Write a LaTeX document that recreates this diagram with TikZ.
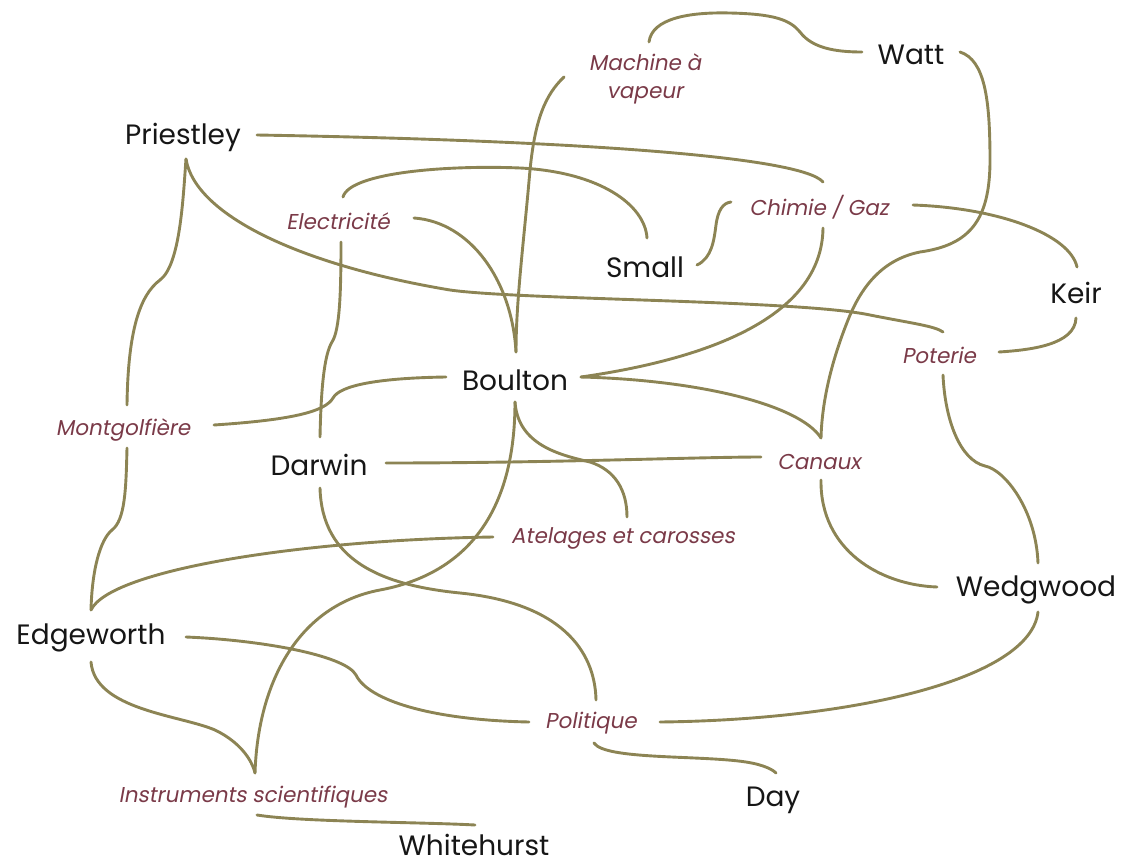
\documentclass[tikz,border=0pt]{standalone}
\usepackage{fontspec}
\setmainfont{Poppins}
\newfontfamily\topicfont{Poppins}[FakeSlant=0.18]
\usetikzlibrary{calc}
\definecolor{linecol}{RGB}{140,132,84}
\definecolor{topiccol}{RGB}{122,58,72}
\definecolor{namecol}{RGB}{22,22,22}
\tikzset{
  person/.style={inner sep=0pt, text=namecol, font=\fontsize{28}{30}\selectfont},
  topic/.style={inner sep=0pt, text=topiccol, font=\topicfont\fontsize{21.5}{28}\selectfont, align=center},
  link/.style={draw=linecol, line width=2.9pt, line cap=round}
}
\begin{document}
\begin{tikzpicture}[x=1pt,y=-1pt]
\path[use as bounding box] (0,0) rectangle (1125,867);
% people
\node[person] (Watt) at (911,55) {Watt};
\node[person] (Pri) at (183,137) {Priestley};
\node[person] (Small) at (645,267) {Small};
\node[person] (Keir) at (1076,293) {Keir};
\node[person] (Boul) at (515,380) {Boulton};
\node[person] (Darw) at (319,465) {Darwin};
\node[person] (Wedg) at (1036,590) {Wedgwood};
\node[person] (Edge) at (91,638) {Edgeworth};
\node[person] (Day) at (773,800) {Day};
\node[person] (White) at (474,845) {Whitehurst};
% topics
\node[topic] (Mach) at (645,79) {Machine à\\vapeur};
\node[topic] (Elec) at (338,221) {Electricité};
\node[topic] (Chim) at (819,207) {Chimie / Gaz};
\node[topic] (Pot) at (939,355) {Poterie};
\node[topic] (Mont) at (123,430) {Montgolfière};
\node[topic] (Can) at (819,462) {Canaux};
\node[topic] (Atel) at (623,538) {Atelages et carosses};
\node[topic] (Pol) at (591,723) {Politique};
\node[topic] (Instr) at (253,797) {Instruments scientifiques};
% links
\draw[link] ($(Mach)+(4,-37)$) .. controls (652,18) and (690,12) .. (730,13) .. controls (775,14) and (790,20) .. (800,32) .. controls (812,48) and (835,52) .. ($(Watt)+(-49,-3)$);
\draw[link] ($(Mach)+(-81,-2)$) .. controls (545,95) and (535,120) .. (530,170) .. controls (524,240) and (516,300) .. ($(Boul)+(1,-28)$);
\draw[link] ($(Watt)+(49,-3)$) .. controls (985,60) and (990,100) .. (990,160) .. controls (990,220) and (970,245) .. (920,252) .. controls (880,260) and (860,290) .. (848,320) .. controls (832,360) and (822,400) .. ($(Can)+(2,-24)$);
\draw[link] ($(Pri)+(74,-2)$) .. controls (550,140) and (800,155) .. ($(Chim)+(4,-25)$);
\draw[link] ($(Pri)+(3,22)$) .. controls (183,200) and (180,265) .. (160,280) .. controls (140,295) and (128,330) .. ($(Mont)+(4,-25)$);
\draw[link] ($(Pri)+(3,22)$) .. controls (195,215) and (300,265) .. (450,290) .. controls (520,300) and (800,300) .. (870,315) .. controls (910,323) and (935,326) .. ($(Pot)+(4,-23)$);
\draw[link] ($(Elec)+(5,-24)$) .. controls (350,172) and (450,165) .. (520,168) .. controls (600,172) and (645,205) .. ($(Small)+(2,-29)$);
\draw[link] ($(Elec)+(76,-3)$) .. controls (470,222) and (512,280) .. ($(Boul)+(1,-28)$);
\draw[link] ($(Elec)+(3,21)$) .. controls (341,290) and (340,330) .. (332,342) .. controls (324,355) and (321,390) .. ($(Darw)+(1,-28)$);
\draw[link] ($(Small)+(52,-2)$) .. controls (712,258) and (714,240) .. (716,225) .. controls (718,210) and (723,203) .. ($(Chim)+(-88,-5)$);
\draw[link] ($(Chim)+(94,-2)$) .. controls (1000,208) and (1070,235) .. ($(Keir)+(1,-26)$);
\draw[link] ($(Chim)+(4,21)$) .. controls (822,320) and (700,360) .. ($(Boul)+(66,-3)$);
\draw[link] ($(Boul)+(66,-3)$) .. controls (700,380) and (800,405) .. ($(Can)+(2,-24)$);
\draw[link] ($(Keir)+(0,25)$) .. controls (1075,345) and (1030,350) .. ($(Pot)+(60,-3)$);
\draw[link] ($(Pot)+(4,20)$) .. controls (945,420) and (960,460) .. (985,466) .. controls (1005,470) and (1036,510) .. ($(Wedg)+(2,-27)$);
\draw[link] ($(Boul)+(-69,-3)$) .. controls (380,378) and (340,385) .. (333,398) .. controls (325,412) and (290,420) .. ($(Mont)+(91,-5)$);
\draw[link] ($(Mont)+(4,18)$) .. controls (126,490) and (125,520) .. (112,530) .. controls (100,540) and (92,570) .. ($(Edge)+(0,-28)$);
\draw[link] ($(Atel)+(-130,-1)$) .. controls (300,540) and (110,570) .. ($(Edge)+(0,-28)$);
\draw[link] ($(Darw)+(67,-2)$) .. controls (550,463) and (700,457) .. ($(Can)+(-58,-5)$);
\draw[link] ($(Darw)+(1,23)$) .. controls (322,560) and (380,585) .. (460,593) .. controls (560,603) and (595,650) .. ($(Pol)+(5,-23)$);
\draw[link] ($(Boul)+(0,22)$) .. controls (518,445) and (560,455) .. (590,462) .. controls (615,470) and (627,490) .. ($(Atel)+(4,-21)$);
\draw[link] ($(Boul)+(0,22)$) .. controls (515,520) and (460,575) .. (380,590) .. controls (300,605) and (258,680) .. ($(Instr)+(2,-24)$);
\draw[link] ($(Can)+(2,18)$) .. controls (820,550) and (880,585) .. ($(Wedg)+(-99,-3)$);
\draw[link] ($(Edge)+(95,-1)$) .. controls (260,640) and (345,655) .. (356,675) .. controls (368,700) and (430,720) .. ($(Pol)+(-62,-1)$);
\draw[link] ($(Edge)+(0,24)$) .. controls (95,710) and (180,715) .. (215,730) .. controls (240,742) and (252,760) .. ($(Instr)+(2,-24)$);
\draw[link] ($(Instr)+(4,18)$) .. controls (300,822) and (420,822) .. ($(White)+(1,-20)$);
\draw[link] ($(Wedg)+(2,22)$) .. controls (1030,680) and (850,720) .. ($(Pol)+(69,-1)$);
\draw[link] ($(Pol)+(3,20)$) .. controls (605,760) and (700,755) .. (746,762) .. controls (765,765) and (773,770) .. ($(Day)+(3,-27)$);
\end{tikzpicture}
\end{document}
